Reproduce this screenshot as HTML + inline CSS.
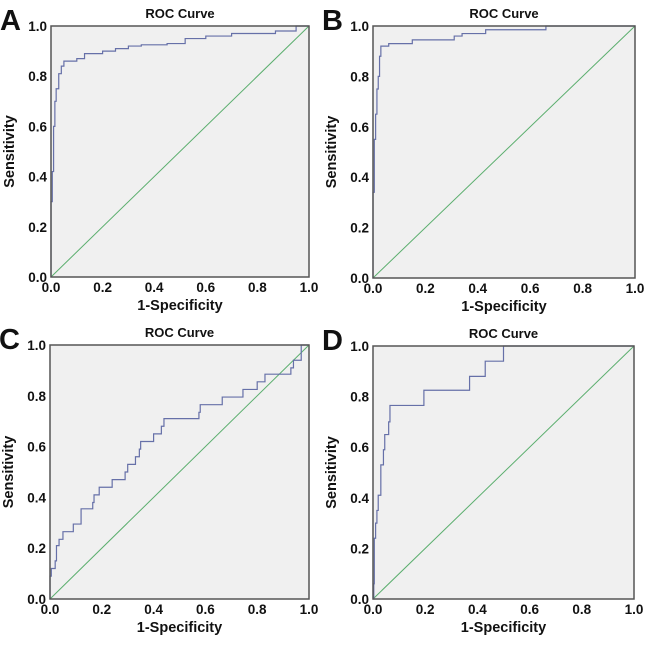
<!DOCTYPE html>
<html><head><meta charset="utf-8"><style>
body{margin:0;background:#fff;width:650px;height:643px;overflow:hidden}
svg text{font-family:"Liberation Sans",Arial,sans-serif;font-weight:bold;fill:#111}
</style></head><body>
<svg id="s" width="650" height="643"></svg>
<script>
const ticks=[0,0.2,0.4,0.6,0.8,1.0];
const tickLabels=["0.0","0.2","0.4","0.6","0.8","1.0"];
const panelLetters=["A","B","C","D"];
const fprA=[0,0,0.005,0.01,0.015,0.02,0.03,0.04,0.05,0.1,0.13,0.2,0.25,0.3,0.35,0.45,0.52,0.6,0.7,0.87,0.95,1];
const tprA=[0,0.3,0.42,0.6,0.7,0.75,0.81,0.84,0.86,0.87,0.89,0.9,0.91,0.92,0.925,0.93,0.95,0.96,0.97,0.98,1,1];
const fprB=[0,0,0.005,0.01,0.015,0.02,0.025,0.03,0.06,0.15,0.31,0.34,0.43,0.66,1];
const tprB=[0,0.34,0.55,0.65,0.75,0.8,0.88,0.92,0.93,0.945,0.96,0.97,0.985,1,1];
const fprC=[0,0,0.005,0.02,0.025,0.035,0.05,0.09,0.12,0.165,0.17,0.19,0.24,0.29,0.3,0.33,0.345,0.35,0.4,0.43,0.44,0.575,0.58,0.665,0.745,0.8,0.83,0.93,0.94,0.97,0.97,1];
const tprC=[0,0.09,0.12,0.15,0.21,0.235,0.265,0.295,0.355,0.38,0.41,0.44,0.47,0.5,0.53,0.56,0.59,0.62,0.65,0.68,0.71,0.735,0.765,0.795,0.825,0.855,0.885,0.91,0.94,0.94,1,1];
const fprD=[0,0.003,0.005,0.01,0.015,0.02,0.03,0.04,0.045,0.06,0.065,0.195,0.37,0.43,0.5,1];
const tprD=[0,0.06,0.24,0.3,0.35,0.41,0.53,0.59,0.65,0.7,0.765,0.825,0.88,0.94,1,1];
const series=[[fprA,tprA],[fprB,tprB],[fprC,tprC],[fprD,tprD]];
const boxes=[[51,26,309,277],[373,26,635,278],[50,345,309,599],[373,346,634,599]];
const NS="http://www.w3.org/2000/svg";
const svg=document.getElementById('s');
function mk(t,a,p){const e=document.createElementNS(NS,t);for(const k in a)e.setAttribute(k,a[k]);(p||svg).appendChild(e);return e;}
boxes.forEach((b,i)=>{
 const [x0,y0,x1,y1]=b;
 const sx=v=>x0+v*(x1-x0), sy=v=>y1-v*(y1-y0);
 const g=mk('g',{});
 
 
 const bg=mk('rect',{x:x0,y:y0,width:x1-x0,height:y1-y0,fill:'#f0f0f0',stroke:'none'},g);
 
 
 const dg=mk('line',{x1:sx(0),y1:sy(0),x2:sx(1),y2:sy(1),stroke:'#5bae6e','stroke-width':1},g);
 
 
 const [fx,ty]=series[i];
 let d='M'+sx(fx[0])+' '+sy(ty[0]);
 for(let k=1;k<fx.length;k++){d+=' L'+sx(fx[k])+' '+sy(ty[k-1])+' L'+sx(fx[k])+' '+sy(ty[k]);}
 const c=mk('path',{d:d,fill:'none',stroke:'#6670a8','stroke-width':1.2},g);
 
 
 const fr=mk('rect',{x:x0,y:y0,width:x1-x0,height:y1-y0,fill:'none',stroke:'#555','stroke-width':1.5},g);
 
 
 ticks.forEach((t,j)=>{
  const yl=mk('text',{x:x0-4,y:sy(t)+5,'font-size':13.5,'text-anchor':'end'},g);yl.textContent=tickLabels[j];
  
  
  const xl=mk('text',{x:sx(t),y:y1+15,'font-size':13.5,'text-anchor':'middle'},g);xl.textContent=tickLabels[j];
  
  
 });
 const tt=mk('text',{x:(x0+x1)/2,y:y0-8,'font-size':13,'text-anchor':'middle'},g);tt.textContent='ROC Curve';
 
 
 const xt=mk('text',{x:(x0+x1)/2,y:y1+33,'font-size':14.5,'text-anchor':'middle'},g);xt.textContent='1-Specificity';
 
 
 const yx=x0-37, yy=(y0+y1)/2;
 const yt=mk('text',{x:yx,y:yy,'font-size':14.5,'text-anchor':'middle',transform:`rotate(-90 ${yx} ${yy})`},g);yt.textContent='Sensitivity';
 
 
 const pl=mk('text',{x:x0-51,y:y0+4,'font-size':29},g);pl.textContent=panelLetters[i];
 
 
});
</script>
</body></html>
